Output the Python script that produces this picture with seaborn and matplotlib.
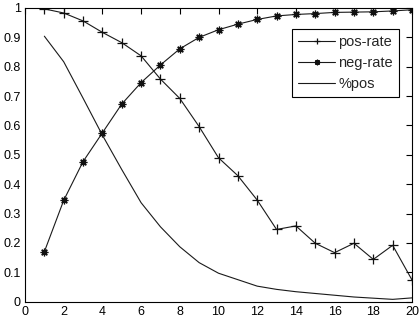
import matplotlib
matplotlib.use("Agg")
from matplotlib import pyplot as plt
import seaborn as sns
import pandas as pd
import numpy as np

x = list(range(1, 21))
pos_rate = [0.997, 0.983, 0.956, 0.917, 0.882, 0.837, 0.758, 0.692, 0.596, 0.49,
            0.429, 0.346, 0.246, 0.258, 0.199, 0.167, 0.199, 0.144, 0.192, 0.074]
neg_rate = [0.17, 0.345, 0.477, 0.575, 0.673, 0.746, 0.806, 0.861, 0.900, 0.926,
            0.945, 0.961, 0.973, 0.978, 0.981, 0.985, 0.986, 0.987, 0.990, 0.994]
pct_pos = [0.904, 0.817, 0.693, 0.567, 0.45, 0.337, 0.255, 0.187, 0.133, 0.097,
           0.075, 0.053, 0.042, 0.034, 0.028, 0.022, 0.016, 0.012, 0.008, 0.013]
series = ["pos-rate", "neg-rate", "%pos"]

df = pd.DataFrame({"x": x, "pos-rate": pos_rate, "neg-rate": neg_rate, "%pos": pct_pos})
df = df.melt(id_vars="x", var_name="series", value_name="y")

sns.set_style("white")
plt.rcParams["font.family"] = ["Liberation Sans", "DejaVu Sans"]
plt.rcParams["font.size"] = 9

fig = plt.figure(figsize=(4.19, 3.26), dpi=100)
ax = fig.add_axes([25 / 419, 1 - 301.7 / 326, 387 / 419, 293.7 / 326])

sns.lineplot(
    data=df, x="x", y="y", hue="series", style="series",
    hue_order=series, style_order=series,
    palette=["#1a1a1a", "#1a1a1a", "#1a1a1a"],
    markers={"pos-rate": "+", "neg-rate": (8, 2, 0), "%pos": ""},
    dashes=False, lw=0.8, markersize=6.5, markeredgewidth=0.9,
    markeredgecolor="#111111", ax=ax,
)
# asterisk a bit smaller than the plus
ax.lines[1].set_markersize(5.5)

ax.set_xlim(0, 20)
ax.set_ylim(0, 1)
ax.set_xticks(range(0, 21, 2))
ax.set_yticks(np.arange(0, 1.01, 0.1))
ax.set_yticklabels(["0", "0.1", "0.2", "0.3", "0.4", "0.5", "0.6", "0.7", "0.8", "0.9", "1"])
ax.set_xlabel("")
ax.set_ylabel("")
ax.tick_params(direction="in", length=4, width=0.8, top=True, right=True,
               labelsize=9, colors="black", pad=3)
for s in ax.spines.values():
    s.set_color("black")
    s.set_linewidth(0.8)

leg = ax.legend(loc="upper right", bbox_to_anchor=(0.966, 0.9285), borderaxespad=0,
                fancybox=False, edgecolor="black", framealpha=1, fontsize=10.5,
                handlelength=2.5, handletextpad=0.25, labelspacing=0.5, borderpad=0.4)
leg.get_frame().set_linewidth(0.8)
for h in leg.legend_handles:
    h.set_markersize(4)

fig.savefig("out.png", dpi=100)
